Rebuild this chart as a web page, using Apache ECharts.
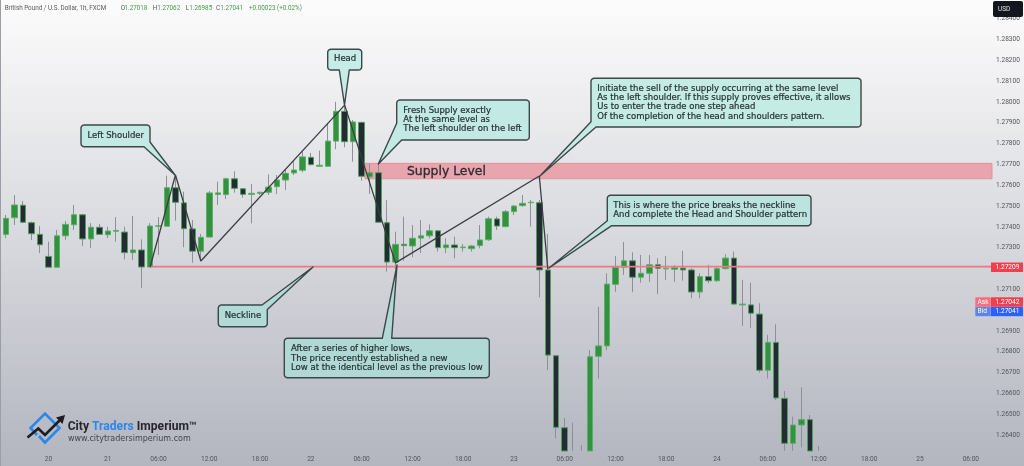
<!DOCTYPE html>
<html>
<head>
<meta charset="utf-8">
<title>GBP/USD head and shoulders</title>
<script src="https://cdn.jsdelivr.net/npm/echarts@6/dist/echarts.min.js"></script>
<style>
html, body { margin: 0; padding: 0; background: #fff; }
#chart { width: 1024px; height: 466px; filter: blur(0.35px); }
</style>
</head>
<body>
<div id="chart"></div>
<script>
// hourly candles (first candle is 19th evening)
var opens = [
  1.27364, 1.27444, 1.27504, 1.27420, 1.27364, 1.27258, 1.27206, 1.27357, 1.27410, 1.27458,
  1.27342, 1.27398, 1.27362, 1.27379, 1.27375, 1.27276, 1.27289, 1.27207, 1.27403, 1.27403,
  1.27588, 1.27515, 1.27390, 1.27283, 1.27351, 1.27556, 1.27555, 1.27631, 1.27583, 1.27556,
  1.27561, 1.27566, 1.27593, 1.27625, 1.27659, 1.27672, 1.27734, 1.27691, 1.27691, 1.27812,
  1.27955, 1.27809, 1.27902, 1.27640, 1.27660, 1.27420, 1.27231, 1.27316, 1.27308, 1.27346,
  1.27357, 1.27381, 1.27300, 1.27313, 1.27300, 1.27295, 1.27310, 1.27338, 1.27438, 1.27401,
  1.27473, 1.27502, 1.27516, 1.27516, 1.27193, 1.26781, 1.26435, 1.26232, 1.26150, 1.26200,
  1.26778, 1.26828, 1.27124, 1.27206, 1.27237, 1.27158, 1.27177, 1.27218, 1.27198, 1.27196,
  1.27202, 1.27193, 1.27087, 1.27161, 1.27141, 1.27199, 1.27250, 1.27025, 1.27025, 1.26981,
  1.26711, 1.26845, 1.26576, 1.26360, 1.26448, 1.26474, 1.26300
];
var closes = [
  1.27441, 1.27505, 1.27422, 1.27367, 1.27314, 1.27206, 1.27357, 1.27412, 1.27458, 1.27342,
  1.27398, 1.27364, 1.27380, 1.27383, 1.27276, 1.27289, 1.27207, 1.27404, 1.27405, 1.27588,
  1.27518, 1.27391, 1.27283, 1.27350, 1.27563, 1.27563, 1.27631, 1.27585, 1.27556, 1.27561,
  1.27566, 1.27591, 1.27625, 1.27657, 1.27673, 1.27736, 1.27699, 1.27696, 1.27812, 1.27955,
  1.27809, 1.27904, 1.27643, 1.27660, 1.27422, 1.27231, 1.27316, 1.27310, 1.27345, 1.27357,
  1.27381, 1.27300, 1.27313, 1.27300, 1.27303, 1.27308, 1.27337, 1.27439, 1.27404, 1.27473,
  1.27500, 1.27513, 1.27518, 1.27193, 1.26784, 1.26437, 1.26232, 1.26150, 1.26200, 1.26776,
  1.26828, 1.27125, 1.27206, 1.27237, 1.27158, 1.27177, 1.27218, 1.27201, 1.27201, 1.27204,
  1.27193, 1.27087, 1.27161, 1.27141, 1.27199, 1.27250, 1.27029, 1.27029, 1.26985, 1.26711,
  1.26845, 1.26578, 1.26360, 1.26448, 1.26474, 1.26304, 1.26280
];
var lows = [
  1.27346, 1.27409, 1.27418, 1.27337, 1.27274, 1.27206, 1.27206, 1.27337, 1.27385, 1.27308,
  1.27298, 1.27361, 1.27346, 1.27329, 1.27244, 1.27241, 1.27105, 1.27207, 1.27265, 1.27403,
  1.27430, 1.27302, 1.27228, 1.27237, 1.27350, 1.27505, 1.27534, 1.27564, 1.27540, 1.27417,
  1.27553, 1.27553, 1.27558, 1.27577, 1.27649, 1.27662, 1.27694, 1.27689, 1.27689, 1.27773,
  1.27782, 1.27713, 1.27622, 1.27558, 1.27422, 1.27185, 1.27198, 1.27237, 1.27255, 1.27274,
  1.27345, 1.27281, 1.27274, 1.27249, 1.27281, 1.27281, 1.27297, 1.27333, 1.27385, 1.27398,
  1.27457, 1.27497, 1.27401, 1.27062, 1.26712, 1.26384, 1.26200, 1.26100, 1.26080, 1.26180,
  1.26672, 1.26808, 1.27088, 1.27169, 1.27086, 1.27132, 1.27136, 1.27077, 1.27145, 1.27136,
  1.27141, 1.27057, 1.27057, 1.27129, 1.27136, 1.27196, 1.27029, 1.26924, 1.26914, 1.26699,
  1.26672, 1.26568, 1.26300, 1.26300, 1.26341, 1.26290, 1.26270
];
var highs = [
  1.27457, 1.27553, 1.27524, 1.27425, 1.27404, 1.27329, 1.27385, 1.27428, 1.27505, 1.27462,
  1.27418, 1.27414, 1.27401, 1.27447, 1.27401, 1.27452, 1.27340, 1.27418, 1.27447, 1.27646,
  1.27646, 1.27569, 1.27433, 1.27366, 1.27572, 1.27617, 1.27636, 1.27667, 1.27587, 1.27606,
  1.27569, 1.27652, 1.27649, 1.27678, 1.27721, 1.27761, 1.27755, 1.27766, 1.27897, 1.28001,
  1.27995, 1.27913, 1.27905, 1.27702, 1.27702, 1.27529, 1.27377, 1.27449, 1.27409, 1.27433,
  1.27412, 1.27385, 1.27345, 1.27353, 1.27318, 1.27313, 1.27409, 1.27449, 1.27449, 1.27481,
  1.27505, 1.27553, 1.27529, 1.27529, 1.27366, 1.26781, 1.26483, 1.26459, 1.26352, 1.26808,
  1.27016, 1.27177, 1.27260, 1.27327, 1.27278, 1.27265, 1.27265, 1.27249, 1.27260, 1.27217,
  1.27285, 1.27201, 1.27177, 1.27218, 1.27212, 1.27268, 1.27281, 1.27145, 1.27132, 1.27033,
  1.26881, 1.26932, 1.26611, 1.26488, 1.26629, 1.26496, 1.26347
];

// time axis: one slot per hour, only some of them carry a label
var slotCount = 117;
var tickSlots = [5, 12, 18, 24, 30, 36, 42, 48, 54, 60, 66, 72, 78, 84, 90, 96, 102, 108, 114];
var tickTexts = ['20', '21', '06:00', '12:00', '18:00', '22', '06:00', '12:00', '18:00', '23',
  '06:00', '12:00', '18:00', '24', '06:00', '12:00', '18:00', '25', '06:00'];
var priceTicks = [1.284, 1.283, 1.282, 1.281, 1.28, 1.279, 1.278, 1.277, 1.276, 1.275, 1.274, 1.273,
  1.271, 1.269, 1.268, 1.267, 1.266, 1.265, 1.264];
var priceMin = 1.263232;
var priceMax = 1.284898;

// drawn levels and the pattern line
var neckline = 1.27209;
var supplyTop = 1.27705;
var supplyBottom = 1.27631;
var patternSlots = [17, 20, 23, 40, 46, 63, 64];
var patternPrices = [1.27207, 1.27649, 1.27236, 1.27985, 1.27227, 1.27644, 1.27198];

var categories = [];
for (var i = 0; i < slotCount; i++) {
  categories.push(tickSlots.indexOf(i) >= 0 ? tickTexts[tickSlots.indexOf(i)] : '');
}

// candlestick does not cut a box that crosses the grid edge, so stop it at the bottom of the scale
function atFloor(v) { return Math.max(v, priceMin); }
var wickData = opens.map(function (o, i) {
  return [atFloor(o), atFloor(closes[i]), atFloor(lows[i]), highs[i]];
});
var bodyData = opens.map(function (o, i) {
  var c = closes[i];
  if (Math.max(o, c) < priceMin) return ['-', '-', '-', '-'];
  return [atFloor(o), atFloor(c), atFloor(Math.min(o, c)), Math.max(o, c)];
});
var patternLine = patternSlots.map(function (s, i) { return [s, patternPrices[i]]; });

// callout outline: rounded box, the tail goes on an edge or replaces a corner
function bubblePoints(b) {
  var r = 3, pts = [];
  var x = b.x, y = b.y, w = b.w, h = b.h;
  var corners = [[x + r, y + r, 180, 'tl'], [x + w - r, y + r, 270, 'tr'],
    [x + w - r, y + h - r, 0, 'br'], [x + r, y + h - r, 90, 'bl']];
  var edges = ['top', 'right', 'bottom', 'left'];
  corners.forEach(function (c, i) {
    if (b.at === c[3]) {
      pts = pts.concat(b.tail);
    } else {
      for (var a = 0; a <= 90; a += 30) {
        var t = (c[2] + a) * Math.PI / 180;
        pts.push([c[0] + r * Math.cos(t), c[1] + r * Math.sin(t)]);
      }
    }
    if (b.at === edges[i]) pts = pts.concat(b.tail);
  });
  return pts;
}

var callouts = [
  { x: 81, y: 125, w: 69, h: 21.7, fill: '#c3e9e4', at: 'br', tail: [[150, 142], [175, 175], [144, 146.7]],
    text: 'Left Shoulder', tx: 87.5, ty: 131 },
  { x: 327.7, y: 49.3, w: 34, h: 20.7, fill: '#c6ece7', at: 'bottom', tail: [[349.3, 70], [344.5, 105], [339.3, 70]],
    text: 'Head', tx: 334, ty: 54.5 },
  { x: 396.7, y: 100, w: 132.6, h: 40, fill: '#c3e9e4', at: 'bl', tail: [[401.7, 140], [378.3, 164], [396.7, 123.3]],
    text: 'Fresh Supply exactly\nAt the same level as\nThe left shoulder on the left', tx: 403.3, ty: 106 },
  { x: 591, y: 78.3, w: 270, h: 48.7, fill: '#c5ebe5', at: 'bl', tail: [[596, 127], [540, 176], [591, 121.7]],
    text: 'Initiate the sell of the supply occurring at the same level\nAs the left shoulder. If this supply proves effective, it allows\nUs to enter the trade one step ahead\nOf the completion of the head and shoulders pattern.', tx: 597.3, ty: 83.8 },
  { x: 607.3, y: 195.3, w: 203.7, h: 30.4, fill: '#bde3df', at: 'bl', tail: [[611.7, 225.7], [549, 268], [607.3, 220.7]],
    text: 'This is where the price breaks the neckline\nAnd complete the Head and Shoulder pattern', tx: 613.3, ty: 201 },
  { x: 218.3, y: 305, w: 49, h: 21.7, fill: '#b2dbd7', at: 'tr', tail: [[262, 305], [313, 267], [267.3, 309.5]],
    text: 'Neckline', tx: 224.7, ty: 311 },
  { x: 284.3, y: 338.3, w: 205, h: 39.4, fill: '#b0d9d5', at: 'top', tail: [[382.3, 338.3], [397, 265], [391.7, 338.3]],
    text: 'After a series of higher lows,\nThe price recently established a new\nLow at the identical level as the previous low', tx: 291, ty: 344.5 }
];

var graphics = [{ type: 'rect', shape: { x: 0, y: 0, width: 1, height: 466 }, style: { fill: '#9b9ea6' } }];

callouts.forEach(function (c) {
  graphics.push({
    type: 'polygon', z: 50,
    shape: { points: bubblePoints(c) },
    style: { fill: c.fill, stroke: '#3c4749', lineWidth: 1.4, lineJoin: 'round' }
  });
  graphics.push({
    type: 'text', z: 51, x: c.tx, y: c.ty,
    style: { text: c.text, font: '8.5px "DejaVu Sans"', lineHeight: 9.3, fill: '#263032', stroke: '#263032', lineWidth: 0.2, verticalAlign: 'top' }
  });
});

function label(text, x, y, font, fill, align) {
  return { type: 'text', z: 60, x: x, y: y,
    style: { text: text, font: font, fill: fill, align: align || 'left', verticalAlign: 'middle' } };
}
function box(x, y, w, h, fill, r) {
  return { type: 'rect', z: 59, shape: { x: x, y: y, width: w, height: h, r: r || 0 }, style: { fill: fill } };
}

// zone caption
graphics.push({ type: 'text', z: 60, x: 407, y: 171.5,
  style: { text: 'Supply Level', font: '12.4px "DejaVu Sans"', fill: '#2a2a30', stroke: '#2a2a30', lineWidth: 0.3, verticalAlign: 'middle' } });

// legend line at the top
var headerFont = '6.3px Roboto';
graphics.push(label('British Pound / U.S. Dollar, 1h, FXCM', 4.7, 8.5, headerFont, '#55585e'));
[['O', 120.7, '1.27018', 124.5], ['H', 152.7, '1.27062', 157.3], ['L', 185.7, '1.26985', 189.3], ['C', 216, '1.27041', 220.3]]
  .forEach(function (p) {
    graphics.push(label(p[0], p[1], 8.5, headerFont, '#55585e'));
    graphics.push(label(p[2], p[3], 8.5, headerFont, '#43994c'));
  });
graphics.push(label('+0.00023 (+0.02%)', 249, 8.5, headerFont, '#43994c'));

// price scale tags
graphics.push(box(993, 1, 30, 16, '#14161f', 2));
graphics.push(label('USD', 998, 9.5, '6.4px Roboto', '#e6e7ea'));
graphics.push(box(991, 262.5, 32, 9.5, '#f0404e'));
graphics.push(label('1.27209', 995.5, 267.4, '6.6px Roboto', '#ffffff'));
graphics.push(box(975.3, 297.3, 15.4, 9.5, '#f4707d'));
graphics.push(box(991, 297.3, 32, 9.5, '#f0404e'));
graphics.push(label('Ask', 977.5, 302.2, '6.6px Roboto', '#ffffff'));
graphics.push(label('1.27042', 995.5, 302.2, '6.6px Roboto', '#ffffff'));
graphics.push(box(975.3, 307, 15.4, 9.2, '#5b84ee'));
graphics.push(box(991, 307, 32, 9.2, '#2962ff'));
graphics.push(label('Bid', 977.5, 311.7, '6.6px Roboto', '#ffffff'));
graphics.push(label('1.27041', 995.5, 311.7, '6.6px Roboto', '#ffffff'));

// logo
graphics.push({ type: 'polyline', z: 40, shape: { points: [[37, 435], [30.5, 428], [45, 413.5], [59.5, 428], [45, 442.5], [39, 436]] },
  style: { fill: 'none', stroke: '#2b87ec', lineWidth: 2.6 } });
graphics.push({ type: 'polyline', z: 41, shape: { points: [[27.5, 437.5], [38.3, 428.5], [45, 435], [60, 420]] },
  style: { fill: 'none', stroke: '#1c1d22', lineWidth: 2.6 } });
graphics.push({ type: 'polygon', z: 41, shape: { points: [[65, 415], [62.5, 424], [56, 417.5]] }, style: { fill: '#1c1d22' } });
graphics.push({ type: 'text', z: 41, x: 67.7, y: 426.7,
  style: {
    text: '{a|City }{b|Traders }{a|Imperium™}',
    verticalAlign: 'middle',
    rich: {
      a: { font: 'bold 12.1px Roboto', fill: '#26272c' },
      b: { font: 'bold 12.1px Roboto', fill: '#2b87ec' }
    }
  } });
graphics.push(label('www.citytradersimperium.com', 68, 439.3, '8px "DejaVu Sans"', '#43454c'));

var chart = echarts.init(document.getElementById('chart'));

var option = {
  animation: false,
  backgroundColor: new echarts.graphic.LinearGradient(0, 0, 0, 1, [
    { offset: 0, color: '#fcfcfc' },
    { offset: 0.5, color: '#d9dadf' },
    { offset: 1, color: '#b3b5bf' }
  ]),
  grid: { left: 2, right: 32, top: 0, bottom: 15 },
  xAxis: [{
    type: 'category',
    data: categories,
    boundaryGap: true,
    axisLine: { show: false },
    axisTick: { show: false },
    axisLabel: { interval: 0, margin: 5, fontFamily: 'Roboto', fontSize: 6.6, color: '#53565d', hideOverlap: false },
    splitLine: { show: false }
  }, {
    // same slots as numbers, for the lines and the zone
    type: 'value',
    min: -0.5,
    max: slotCount - 0.5,
    show: false,
    splitLine: { show: false }
  }],
  yAxis: {
    type: 'value',
    position: 'right',
    min: priceMin,
    max: priceMax,
    scale: true,
    axisLine: { show: false },
    axisTick: { show: false },
    splitLine: { show: false },
    axisLabel: {
      customValues: priceTicks,
      margin: 4,
      padding: [2, 0, 0, 0],
      fontFamily: 'Roboto',
      fontSize: 6.6,
      color: '#53565d',
      formatter: function (v) { return v.toFixed(5); }
    }
  },
  series: [{
    name: 'zone',
    type: 'line',
    xAxisIndex: 1,
    z: 1,
    data: [],
    markArea: {
      silent: true,
      itemStyle: { color: '#e9a5ad', borderColor: '#e3929b', borderWidth: 1 },
      data: [[{ xAxis: 42.4, yAxis: supplyTop }, { xAxis: slotCount - 0.5, yAxis: supplyBottom }]]
    }
  }, {
    name: 'wicks',
    type: 'candlestick',
    z: 2,
    barWidth: 1,
    itemStyle: { color: '#8d9096', color0: '#8d9096', borderColor: '#8d9096', borderColor0: '#8d9096', borderWidth: 1 },
    data: wickData
  }, {
    name: 'bodies',
    type: 'candlestick',
    z: 3,
    barWidth: 6,
    itemStyle: { color: '#33923f', color0: '#262a36', borderColor: '#5cae66', borderColor0: '#4f9e5a', borderWidth: 1 },
    data: bodyData
  }, {
    name: 'neckline',
    type: 'line',
    xAxisIndex: 1,
    z: 4,
    symbol: 'none',
    lineStyle: { color: '#ea7a85', width: 1.6 },
    data: [[patternSlots[0], neckline], [slotCount - 0.5, neckline]]
  }, {
    name: 'pattern',
    type: 'line',
    xAxisIndex: 1,
    z: 5,
    symbol: 'none',
    lineStyle: { color: '#3a3d42', width: 1.3 },
    data: patternLine
  }],
  graphic: graphics
};

chart.setOption(option);
</script>
</body>
</html>
